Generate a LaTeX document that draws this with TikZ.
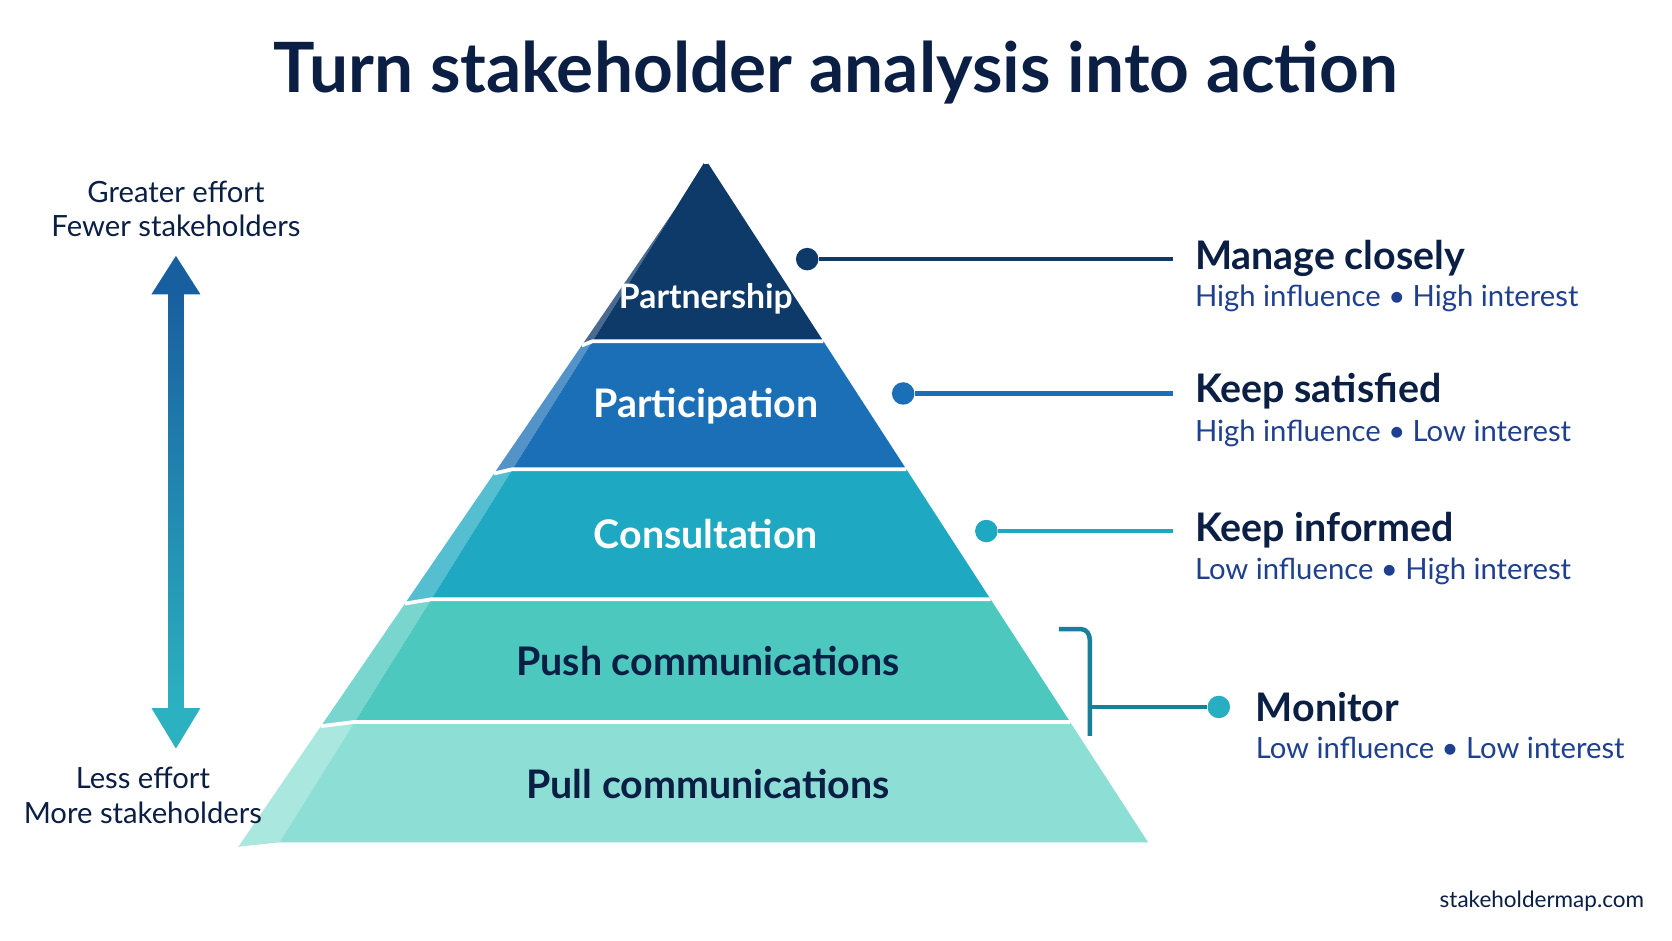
\documentclass[tikz,border=0pt]{standalone}
\usepackage{fontspec}
\setmainfont{Lato}
\begin{document}
\begin{tikzpicture}[x=0.01cm,y=-0.01cm,
  lbl/.style={font=\bfseries\fontsize{10.5}{12}\selectfont},
  head/.style={anchor=west,inner sep=0pt,font=\bfseries\fontsize{10.5}{12}\selectfont,text=navy},
  sub/.style={anchor=west,inner sep=0pt,font=\fontsize{7.8}{9}\selectfont,text=navyb},
  dot/.style={circle,inner sep=0pt,minimum size=6pt}]
\definecolor{navy}{HTML}{0B1F45}
\definecolor{navyb}{HTML}{1F3F8F}
\definecolor{cA}{HTML}{0E3A6A}
\definecolor{cB}{HTML}{1B6FB6}
\definecolor{cC}{HTML}{1EA8C2}
\definecolor{cD}{HTML}{4CC8BE}
\definecolor{cE}{HTML}{8DDFD5}
\useasboundingbox (0,0) rectangle (1568,882);
\fill[white] (0,0) rectangle (1568,882);
\node[font=\bfseries\fontsize{18.5}{20}\selectfont,text=navy] (title) at (784,68) {Turn stakeholder analysis into action};
\def\layer#1#2#3{%
  \pgfmathsetmacro\rt{662+0.648*(#1-150)}\pgfmathsetmacro\rb{662+0.648*(#2-150)}%
  \pgfmathsetmacro\lt{662-0.625*(#1-150)}\pgfmathsetmacro\lb{662-0.625*(#2-150)}%
  \pgfmathsetmacro\st{0.06*(#1-150)}\pgfmathsetmacro\sb{0.06*(#2-150)}%
  \fill[#3!75!white] (\lt-\st,#1+4) -- (\lt,#1) -- (\lb,#2) -- (\lb-\sb,#2+4) -- cycle;
  \fill[#3] (\lt,#1) -- (\rt,#1) -- (\rb,#2) -- (\lb,#2) -- cycle;
  \draw[white,line width=1pt] (\lt-\st,#1+4) -- (\lt,#1) -- (\rt,#1);}
\layer{150}{320}{cA}
\layer{320}{440}{cB}
\layer{440}{562}{cC}
\layer{562}{677}{cD}
\layer{677}{790}{cE}
\node[lbl,text=white,font=\bfseries\fontsize{9}{11}\selectfont] (pA) at (662,280) {Partnership};
\node[lbl,text=white] (pB) at (662,381) {Participation};
\node[lbl,text=white] (pC) at (662,501) {Consultation};
\node[lbl,text=navy] (pD) at (664,620) {Push communications};
\node[lbl,text=navy] (pE) at (664,735) {Pull communications};
% callouts
\node[dot,fill=cA] (dA) at (757,243) {};
\coordinate (eA) at (1100,243);
\draw[cA,line width=1.2pt] (dA) -- (eA);
\node[head] (hA) at (1120,242) {Manage closely};
\node[sub] (sA) at (1120,280) {High influence • High interest};
\node[dot,fill=cB] (dB) at (847,369) {};
\coordinate (eB) at (1100,369);
\draw[cB,line width=1.2pt] (dB) -- (eB);
\node[head] (hB) at (1120,367) {Keep satisfied};
\node[sub] (sB) at (1120,406) {High influence • Low interest};
\node[dot,fill=cC] (dC) at (925,498) {};
\coordinate (eC) at (1100,498);
\draw[cC,line width=1.2pt] (dC) -- (eC);
\node[head] (hC) at (1120,497) {Keep informed};
\node[sub] (sC) at (1120,536) {Low influence • High interest};
\node[dot,fill=cC!80!cD] (dD) at (1143,663) {};
\coordinate (bk) at (1022,663);
\draw[cC!70!navy,line width=1.2pt] (993,590) -- (1014,590) to[out=0,in=90] (1022,600) -- (1022,690);
\draw[cC!70!navy,line width=1.2pt] (bk) -- (dD);
\node[head] (hD) at (1177,663) {Monitor};
\node[sub] (sD) at (1177,701) {Low influence • Low interest};
% left arrow
\shade[top color=cB!80!navy,bottom color=cC!70!cD] (158,275) rectangle (172,665);
\fill[cB!80!navy] (142,276) -- (188,276) -- (165,240) -- cycle;
\fill[cC!70!cD] (142,664) -- (188,664) -- (165,702) -- cycle;
\node[align=center,font=\fontsize{7.8}{9.2}\selectfont,text=navy] (gt) at (165,196) {Greater effort\\Fewer stakeholders};
\node[align=center,font=\fontsize{7.8}{9.2}\selectfont,text=navy] (lt) at (134,746) {Less effort\\More stakeholders};
\node[font=\fontsize{6}{8}\selectfont,text=navy] (web) at (1446,845) {stakeholdermap.com};
\end{tikzpicture}
\end{document}
